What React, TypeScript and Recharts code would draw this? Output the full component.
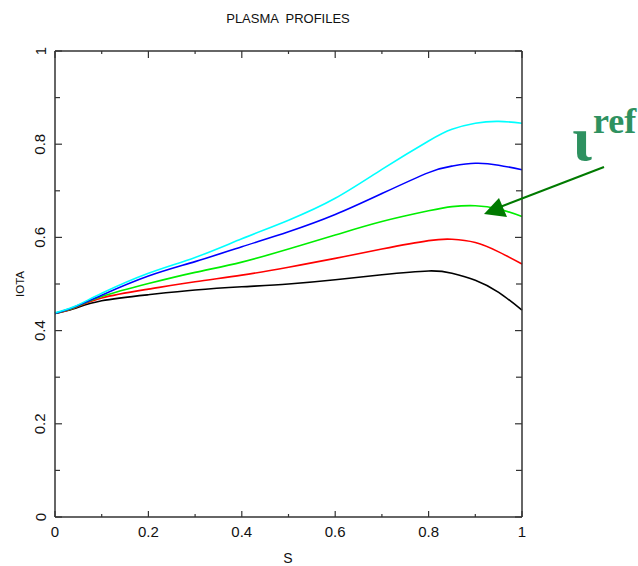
import React from "react";
import { LineChart, Line, XAxis, YAxis } from "recharts";

// radial coordinate s
const S = [0, 0.04, 0.1, 0.2, 0.3, 0.4, 0.5, 0.6, 0.7, 0.8, 0.85, 0.9, 0.95, 1.0];

// iota profiles, lowest to highest
const IOTA_BLACK = [0.437, 0.447, 0.464, 0.477, 0.487, 0.494, 0.5, 0.509, 0.52, 0.528, 0.523, 0.508, 0.482, 0.444];
const IOTA_RED = [0.437, 0.448, 0.47, 0.489, 0.505, 0.519, 0.536, 0.555, 0.575, 0.593, 0.596, 0.589, 0.569, 0.543];
const IOTA_GREEN = [0.437, 0.449, 0.473, 0.501, 0.525, 0.547, 0.575, 0.605, 0.634, 0.657, 0.666, 0.668, 0.661, 0.645];
const IOTA_BLUE = [0.437, 0.45, 0.476, 0.517, 0.548, 0.58, 0.612, 0.649, 0.694, 0.739, 0.753, 0.759, 0.755, 0.745];
const IOTA_CYAN = [0.438, 0.451, 0.48, 0.523, 0.557, 0.597, 0.637, 0.684, 0.746, 0.807, 0.832, 0.845, 0.849, 0.845];

const TICKS = [0, 0.1, 0.2, 0.3, 0.4, 0.5, 0.6, 0.7, 0.8, 0.9, 1];

const data = S.map((s, i) => ({
  s,
  black: IOTA_BLACK[i],
  red: IOTA_RED[i],
  green: IOTA_GREEN[i],
  blue: IOTA_BLUE[i],
  cyan: IOTA_CYAN[i],
}));

const AXIS = "#333";
const FONT = "'Liberation Sans', Arial, sans-serif";
const SERIF = "'Liberation Serif', 'DejaVu Serif', serif";
const isMajor = (v: number) => Math.round(v * 10) % 2 === 0;
const fmt = (v: number) => String(v);

function LeftTick({ x, y, payload }: any) {
  const v = payload.value;
  const len = isMajor(v) ? 7 : 5;
  return (
    <g>
      <line x1={x} y1={y} x2={x + len} y2={y} stroke={AXIS} strokeWidth={1.2} />
      {isMajor(v) && (
        <text x={x - 15} y={y} transform={`rotate(-90 ${x - 15} ${y})`} textAnchor="middle" dominantBaseline="central"
          fontSize={15} fontFamily={FONT} fill="#111">{fmt(v)}</text>
      )}
    </g>
  );
}

function RightTick({ x, y, payload }: any) {
  const len = isMajor(payload.value) ? 7 : 6;
  return <line x1={x} y1={y} x2={x - len} y2={y} stroke={AXIS} strokeWidth={1.2} />;
}

function BottomTick({ x, y, payload }: any) {
  const v = payload.value;
  const len = isMajor(v) ? 6 : 3;
  return (
    <g>
      <line x1={x} y1={y} x2={x} y2={y - len} stroke={AXIS} strokeWidth={1.2} />
      {isMajor(v) && (
        <text x={x} y={y + 14} textAnchor="middle" dominantBaseline="central" fontSize={15} fontFamily={FONT} fill="#111">
          {fmt(v)}
        </text>
      )}
    </g>
  );
}

function TopTick({ x, y, payload }: any) {
  const len = isMajor(payload.value) ? 7 : 3;
  return <line x1={x} y1={y} x2={x} y2={y + len} stroke={AXIS} strokeWidth={1.2} />;
}

const lineProps = { xAxisId: "b", yAxisId: "l", type: "natural" as const, strokeWidth: 1.6, dot: false, isAnimationActive: false };

export default function App() {
  return (
    <div style={{ position: "absolute", left: 0, top: 0, width: 638, height: 566, background: "#fff" }}>
      <LineChart width={638} height={566} data={data} margin={{ top: 50, right: 115, left: 0, bottom: 0 }}>
        <XAxis xAxisId="b" dataKey="s" type="number" domain={[0, 1]} ticks={TICKS} height={49}
          axisLine={{ stroke: AXIS, strokeWidth: 1.5 }} tickLine={false} tickSize={0} tickMargin={0}
          tick={<BottomTick />} interval={0} />
        <XAxis xAxisId="t" orientation="top" dataKey="s" type="number" domain={[0, 1]} ticks={TICKS} height={1}
          axisLine={{ stroke: AXIS, strokeWidth: 1.5 }} tickLine={false} tickSize={0} tickMargin={0}
          tick={<TopTick />} interval={0} />
        <YAxis yAxisId="l" type="number" domain={[0, 1]} ticks={TICKS} width={55}
          axisLine={{ stroke: AXIS, strokeWidth: 1.5 }} tickLine={false} tickSize={0} tickMargin={0}
          tick={<LeftTick />} interval={0} />
        <YAxis yAxisId="r" orientation="right" type="number" domain={[0, 1]} ticks={TICKS} width={1}
          axisLine={{ stroke: AXIS, strokeWidth: 1.5 }} tickLine={false} tickSize={0} tickMargin={0}
          tick={<RightTick />} interval={0} />
        <Line {...lineProps} dataKey="black" stroke="#000000" />
        <Line {...lineProps} dataKey="red" stroke="#ff0000" />
        <Line {...lineProps} dataKey="green" stroke="#00ee00" />
        <Line {...lineProps} dataKey="blue" stroke="#0000ff" />
        <Line {...lineProps} dataKey="cyan" stroke="#00ffff" />
        {/* hidden copies tie the top and right frame axes to the data */}
        <Line xAxisId="t" yAxisId="r" dataKey="black" stroke="none" dot={false} isAnimationActive={false} legendType="none" />
      </LineChart>
      <svg width={638} height={566} style={{ position: "absolute", left: 0, top: 0, pointerEvents: "none" }}>
        <text x={288} y={23} textAnchor="middle" fontSize={13} fontFamily={FONT} fill="#111" xmlSpace="preserve">
          PLASMA  PROFILES
        </text>
        <text x={24} y={284} transform="rotate(-90 24 284)" textAnchor="middle" fontSize={11.5} fontFamily={FONT} fill="#111">
          IOTA
        </text>
        <text x={288} y={563} textAnchor="middle" fontSize={14} fontFamily={FONT} fill="#111">
          S
        </text>
        <line x1={604} y1={167} x2={500} y2={207} stroke="#007a00" strokeWidth={2} />
        <polygon points="484,214 499,198 507,217" fill="#007a00" />
        <text x={572} y={160} fontSize={64} fontWeight="bold" fontFamily={SERIF} fill="#2e9160">
          ι
        </text>
        <text x={593} y={133} fontSize={36} fontWeight="bold" fontFamily={SERIF} fill="#2e9160">
          ref
        </text>
      </svg>
    </div>
  );
}
